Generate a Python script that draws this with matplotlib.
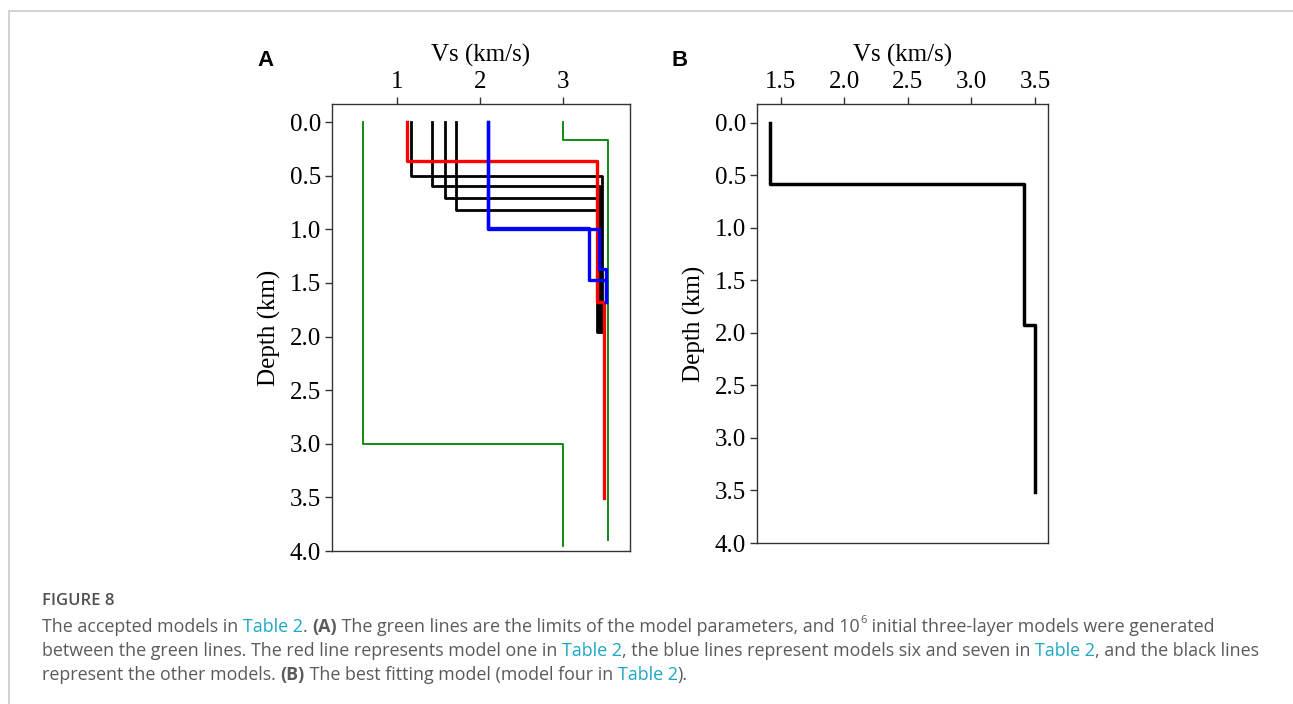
"""Accepted shear-wave velocity models (panel A) and best fitting model (panel B)."""

import matplotlib
matplotlib.use("Agg")
import matplotlib.pyplot as plt
from matplotlib.lines import Line2D
from matplotlib.text import Annotation

# ---- data: three-layer Vs models, velocities (km/s) and interface depths (km)
green_low_vs = [0.58, 3.0]
green_low_z = [3.0]
green_low_bottom = 3.95
green_high_vs = [3.0, 3.55]
green_high_z = [0.17]
green_high_bottom = 3.9

black_vs = [[1.16, 3.47, 3.50], [1.42, 3.45, 3.50], [1.57, 3.43, 3.50], [1.71, 3.41, 3.50]]
black_z = [[0.505, 1.90], [0.595, 1.92], [0.71, 1.94], [0.82, 1.96]]
black_bottom = 3.5

red_vs = [1.12, 3.41, 3.50]
red_z = [0.365, 1.68]
red_bottom = 3.51

blue_vs = [[2.10, 3.32, 3.52], [2.10, 3.44, 3.52]]
blue_z = [[0.99, 1.47], [1.0, 1.37]]
blue_bottom = 1.68

best_vs = [1.42, 3.416, 3.50]
best_z = [0.586, 1.93]
best_bottom = 3.51

a_xticks = [1, 2, 3]
b_xticks = [1.5, 2.0, 2.5, 3.0, 3.5]
yticks = [0.0, 0.5, 1.0, 1.5, 2.0, 2.5, 3.0, 3.5, 4.0]

SERIF = "Liberation Serif"
CAP_FONT = "Open Sans"
CAP_GREY = "#5a5a5a"
LINK = "#1ba6c6"


def profile(vs, z, bottom):
    """Step profile (velocity, depth) from layer velocities and interfaces."""
    vel, dep = [vs[0]], [0.0]
    for v_prev, v, zi in zip(vs[:-1], vs[1:], z):
        vel += [v_prev, v]
        dep += [zi, zi]
    vel.append(vs[-1])
    dep.append(bottom)
    return vel, dep


def style_axes(ax, xticks, xlim, ylim, xfmt):
    ax.set_xlim(*xlim)
    ax.set_ylim(*ylim)
    ax.xaxis.tick_top()
    ax.xaxis.set_label_position("top")
    ax.set_xticks(xticks)
    ax.set_xticklabels([xfmt.format(t) for t in xticks])
    ax.set_yticks(yticks)
    ax.set_yticklabels([f"{t:.1f}" for t in yticks])
    ax.tick_params(direction="out", length=5, width=1, labelsize=18, pad=3, color="#333333")
    for lab in ax.get_xticklabels() + ax.get_yticklabels():
        lab.set_family(SERIF)
    for sp in ax.spines.values():
        sp.set_color("#333333")
        sp.set_linewidth(1.0)
    ax.set_xlabel("Vs (km/s)", family=SERIF, fontsize=18, labelpad=7)
    ax.set_ylabel("Depth (km)", family=SERIF, fontsize=18, labelpad=6)


fig = plt.figure(figsize=(12.93, 7.04), dpi=100)
W, H = 1293, 704

# thin frame at top and left
fig.add_artist(Line2D([9 / W, 1], [1 - 11 / H] * 2, color="#d2d2d2", lw=1.4))
fig.add_artist(Line2D([9 / W] * 2, [0, 1 - 11 / H], color="#d2d2d2", lw=1.4))

# ---- panel A
axA = fig.add_axes([332 / W, 1 - 551 / H, 298 / W, 447 / H])
v, d = profile(green_low_vs, green_low_z, green_low_bottom)
axA.plot(v, d, color="green", lw=1.3)
v, d = profile(green_high_vs, green_high_z, green_high_bottom)
axA.plot(v, d, color="green", lw=1.3)
for vs, z in zip(black_vs, black_z):
    v, d = profile(vs, z, black_bottom)
    axA.plot(v, d, color="black", lw=2.0)
v, d = profile(red_vs, red_z, red_bottom)
axA.plot(v, d, color="red", lw=2.4)
for vs, z in zip(blue_vs, blue_z):
    v, d = profile(vs, z, blue_bottom)
    axA.plot(v, d, color="blue", lw=2.4)
style_axes(axA, a_xticks, (0.21, 3.81), (4.0, -0.168), "{:d}")

# ---- panel B
axB = fig.add_axes([757 / W, 1 - 543 / H, 291 / W, 439 / H])
v, d = profile(best_vs, best_z, best_bottom)
axB.plot(v, d, color="black", lw=2.5)
style_axes(axB, b_xticks, (1.314, 3.602), (4.0, -0.178), "{:.1f}")

fig.text(266 / W, 1 - 61 / H, "A", family="Liberation Sans", weight="bold",
         fontsize=16, ha="center", va="center")
fig.text(680 / W, 1 - 61 / H, "B", family="Liberation Sans", weight="bold",
         fontsize=16, ha="center", va="center")

# ---- caption
fig.text(42 / W, 1 - 601 / H, "FIGURE 8", family=CAP_FONT, fontsize=12,
         color="#505050", weight="semibold", va="center", ha="left")


def chain(y_px, parts, size=12.9):
    """Place caption segments one after another on a single line."""
    prev = None
    base = None
    for txt, color, weight, sup in parts:
        kw = dict(family=CAP_FONT, color=color, weight=weight,
                  fontsize=size * (0.62 if sup else 1.0))
        if prev is None:
            prev = fig.text(42 / W, 1 - y_px / H, txt, va="baseline", ha="left", **kw)
            base = prev
        elif sup:
            prev = fig.add_artist(Annotation(
                txt, xy=(1, 0), xycoords=prev, xytext=(0.8, 7),
                textcoords="offset points", va="bottom", ha="left", **kw))
        else:
            prev = fig.add_artist(Annotation(
                txt, xy=(1, 0), xycoords=(prev, base), va="bottom", ha="left", **kw))


G, N, B = CAP_GREY, "normal", "bold"
chain(632, [("The accepted models in ", G, N, False), ("Table 2", LINK, N, False),
            (". ", G, N, False), ("(A)", G, B, False),
            (" The green lines are the limits of the model parameters, and 10", G, N, False),
            ("6", G, N, True),
            (" initial three-layer models were generated", G, N, False)])
chain(656, [("between the green lines. The red line represents model one in ", G, N, False),
            ("Table 2", LINK, N, False),
            (", the blue lines represent models six and seven in ", G, N, False),
            ("Table 2", LINK, N, False),
            (", and the black lines", G, N, False)])
chain(680, [("represent the other models. ", G, N, False), ("(B)", G, B, False),
            (" The best fitting model (model four in ", G, N, False),
            ("Table 2", LINK, N, False), (").", G, N, False)])

fig.savefig("out.png", dpi=100)
